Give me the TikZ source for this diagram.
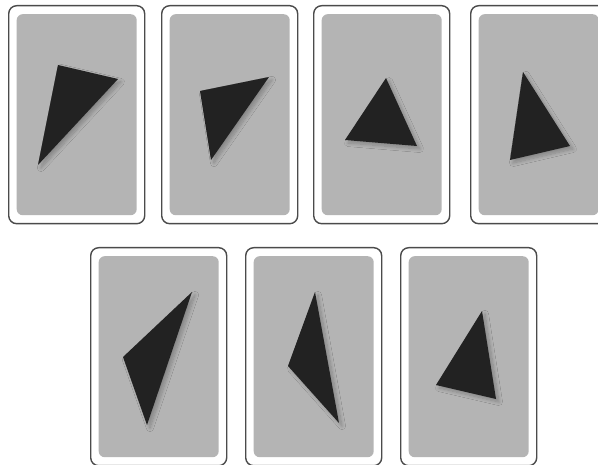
\documentclass[tikz,border=0pt]{standalone}
\usepackage{xcolor}
\usepackage{tikz}
\usetikzlibrary{positioning,shadows.blur}
\definecolor{cardedge}{RGB}{75,75,75}
\definecolor{cardface}{RGB}{180,180,180}
\definecolor{tridark}{RGB}{34,34,34}

\tikzset{
    card/.style={draw=cardedge, line width=1.4pt, rounded corners=8pt, fill=white,
        minimum width=136pt, minimum height=218pt, inner sep=0pt, anchor=north west},
    face/.style={fill=cardface, rounded corners=6pt,
        minimum width=120pt, minimum height=201pt, inner sep=0pt},
    tri/.style={fill=tridark, blur shadow={shadow xshift=3pt, shadow yshift=-3pt,
        shadow blur radius=3.5pt, shadow blur steps=10, shadow opacity=25}}
}

\begin{document}
\begin{tikzpicture}[x=1pt, y=-1pt]
    \clip (0,0) rectangle (598,465);
    \useasboundingbox (0,0) rectangle (598,465);
    % cards
    \foreach \name/\xx/\yy in {one/8/5, two/161/5, three/313/5, four/470/5,
                               five/90/247, six/245/247, seven/400/247} {
        \node[card] (\name) at (\xx,\yy) {};
        \node[face] (\name face) at (\name.center) {};
    }
    % triangles
    \fill[tri] (58,65) -- (118,79) -- (38,165) -- cycle;
    \fill[tri] (200,91) -- (269,77) -- (211,160) -- cycle;
    \fill[tri] (386,78) -- (417,146) -- (345,140) -- cycle;
    \fill[tri] (523,72) -- (570,146) -- (510,160) -- cycle;
    \fill[tri] (192,292) -- (147,425) -- (123,357) -- cycle;
    \fill[tri] (315,292) -- (339,423) -- (288,366) -- cycle;
    \fill[tri] (482,311) -- (496,399) -- (436,385) -- cycle;
\end{tikzpicture}
\end{document}
